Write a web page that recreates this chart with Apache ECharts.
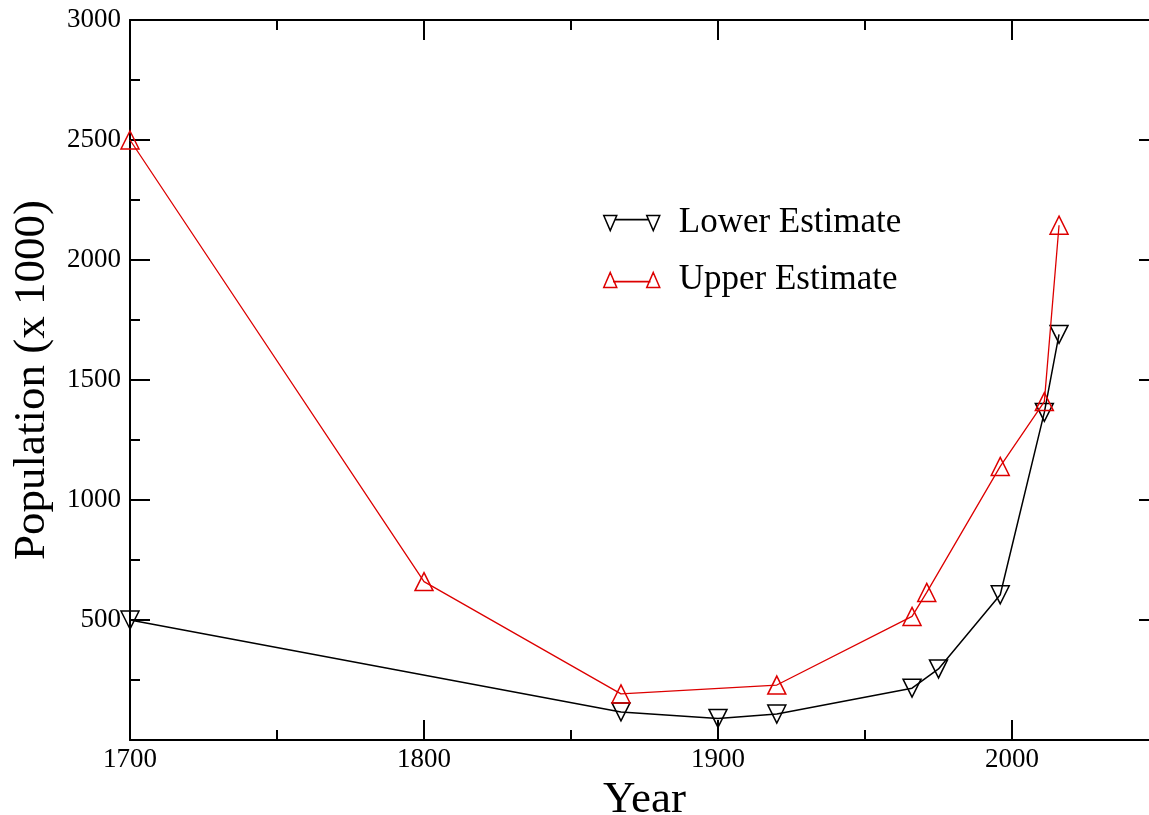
<!DOCTYPE html>
<html>
<head>
<meta charset="utf-8">
<script src="https://cdn.jsdelivr.net/npm/echarts@6/dist/echarts.min.js"></script>
<style>
html,body{margin:0;padding:0;background:#fff;}
#chart{width:1149px;height:815px;}
</style>
</head>
<body>
<div id="chart"></div>
<script>
// ---- data ----
const lowerYears  = [1700, 1867, 1900, 1920, 1966, 1975, 1996, 2011, 2016];
const lowerValues = [500, 117, 90, 108, 216, 296, 605, 1365, 1690];
const upperYears  = [1700, 1800, 1867, 1920, 1966, 1971, 1996, 2011, 2016];
const upperValues = [2500, 660, 192, 229, 515, 615, 1140, 1410, 2145];
const xTicks = [1700, 1800, 1900, 2000];
const yTicks = [500, 1000, 1500, 2000, 2500, 3000];
const seriesNames = ['Lower Estimate', 'Upper Estimate'];
const xTitle = 'Year';
const yTitle = 'Population (x 1000)';

const RED = '#dd0000';
const FONT = "'Liberation Serif', 'Times New Roman', serif";

const chart = echarts.init(document.getElementById('chart'), null, {renderer: 'canvas'});

function axisCommon() {
  return {
    axisLine: {show: true, onZero: false, lineStyle: {color: '#000', width: 2}},
    axisTick: {show: true, inside: true, length: 20, lineStyle: {color: '#000', width: 2}},
    minorTick: {show: true, splitNumber: 2, length: 10, lineStyle: {color: '#000', width: 2}},
    splitLine: {show: false},
    minorSplitLine: {show: false}
  };
}

const option = {
  animation: false,
  backgroundColor: '#fff',
  textStyle: {fontFamily: FONT},
  grid: {left: 130, top: 20, width: 1029, height: 720, outerBoundsMode: 'none', containLabel: false},
  legend: {
    orient: 'vertical',
    left: 598,
    top: 199,
    itemWidth: 56,
    itemHeight: 15,
    itemGap: 19,
    selectedMode: false,
    textStyle: {fontFamily: FONT, fontSize: 35, color: '#000', lineHeight: 38, padding: [0, 0, 0, 14]},
    data: [
      {name: seriesNames[0],
       icon: 'path://M0,0L13,0L6.5,15ZM43,0L56,0L49.5,15ZM12,4L44,4L44,4.2L12,4.2Z',
       itemStyle: {color: 'rgba(255,255,255,0)', borderColor: '#000', borderWidth: 1.5}},
      {name: seriesNames[1],
       icon: 'path://M6.5,0L13,15L0,15ZM49.5,0L56,15L43,15ZM10,9L46,9L46,9.2L10,9.2Z',
       itemStyle: {color: 'rgba(255,255,255,0)', borderColor: RED, borderWidth: 1.5}}
    ]
  },
  xAxis: [
    Object.assign({
      type: 'value', position: 'bottom', min: 1700, max: 2050, interval: 100,
      name: xTitle, nameLocation: 'middle', nameGap: 33,
      nameTextStyle: {fontFamily: FONT, fontSize: 45, color: '#000'},
      axisLabel: {show: true, margin: 6, fontFamily: FONT, fontSize: 27, color: '#000',
        showMaxLabel: false,
        formatter: v => xTicks.indexOf(v) >= 0 ? String(v) : ''}
    }, axisCommon()),
    Object.assign({
      type: 'value', position: 'top', min: 1700, max: 2050, interval: 100,
      axisLabel: {show: false}
    }, axisCommon())
  ],
  yAxis: [
    Object.assign({
      type: 'value', position: 'left', min: 0, max: 3000, interval: 500,
      name: yTitle, nameLocation: 'middle', nameGap: 75, nameRotate: 90,
      nameTextStyle: {fontFamily: FONT, fontSize: 45, color: '#000'},
      axisLabel: {show: true, margin: 9, fontFamily: FONT, fontSize: 27, color: '#000',
        showMinLabel: false,
        formatter: v => yTicks.indexOf(v) >= 0 ? String(v) : ''}
    }, axisCommon()),
    Object.assign({
      type: 'value', position: 'right', min: 0, max: 3000, interval: 500,
      axisLabel: {show: false}
    }, axisCommon())
  ],
  series: [
    {
      name: seriesNames[0], type: 'line',
      data: lowerYears.map((y, i) => [y, lowerValues[i]]),
      symbol: 'triangle', symbolRotate: 180, symbolSize: 18,
      showAllSymbol: true,
      lineStyle: {color: '#000', width: 1.5},
      itemStyle: {color: 'rgba(255,255,255,0)', borderColor: '#000', borderWidth: 1.5},
      emphasis: {disabled: true},
      z: 2
    },
    {
      name: seriesNames[1], type: 'line',
      data: upperYears.map((y, i) => [y, upperValues[i]]),
      symbol: 'triangle', symbolSize: 18,
      showAllSymbol: true,
      lineStyle: {color: RED, width: 1.3},
      itemStyle: {color: 'rgba(255,255,255,0)', borderColor: RED, borderWidth: 1.5},
      emphasis: {disabled: true},
      z: 3
    }
  ]
};
chart.setOption(option);
</script>
</body>
</html>
